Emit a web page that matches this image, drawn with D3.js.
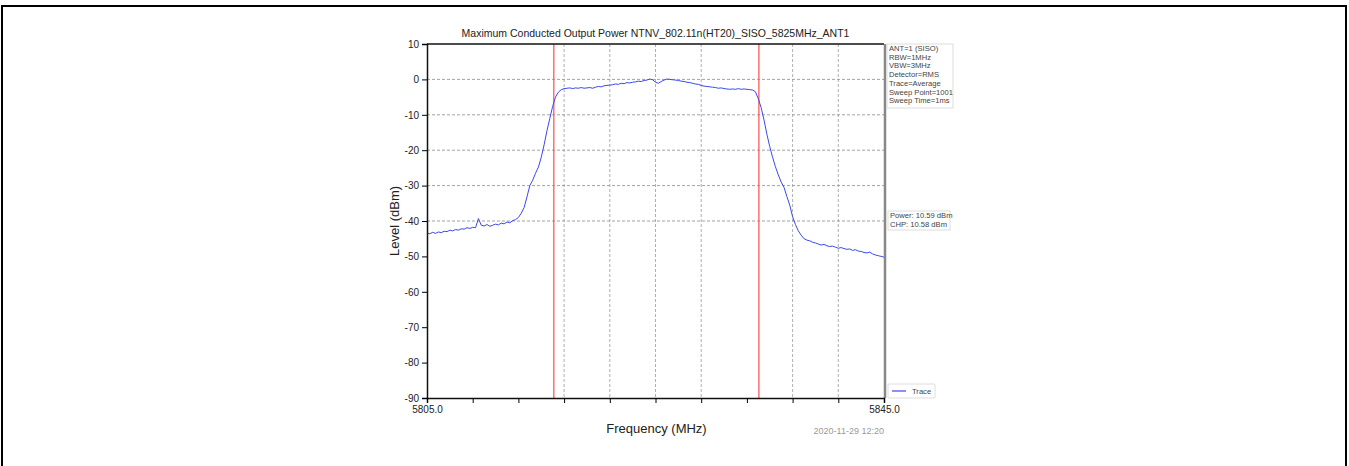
<!DOCTYPE html>
<html><head><meta charset="utf-8">
<script src="https://cdn.jsdelivr.net/npm/d3@7"></script>
<style>body{margin:0;background:#fff;font-family:"Liberation Sans",Arial,sans-serif}</style>
</head><body><svg id="c" width="1349" height="466"></svg>
<script>
const startFreq = 5805.0, stepFreq = 0.25;
const levels = [
-43.4,-43.6,-43.2,-43.5, -43.1,-43.3,-42.9,-43.0, -42.6,-42.8,-42.4,-42.6, -42.2,-42.3,-41.9,-42.1,
-41.8,-41.9,-39.3,-41.2, -41.4,-41.0,-41.5,-41.2, -40.9,-41.1,-40.6,-40.8, -40.3,-40.5,-39.9,-39.6,
-39.0,-37.8,-36.2,-33.2, -30.0,-28.5,-26.5,-24.8, -22.0,-18.5,-14.5,-11.0, -7.6,-5.0,-3.6,-2.9,
-2.6,-2.5,-2.4,-2.6, -2.4,-2.5,-2.3,-2.5, -2.4,-2.3,-2.5,-2.2, -2.0,-2.1,-1.8,-1.7,
-1.6,-1.5,-1.3,-1.4, -1.1,-1.2,-0.9,-1.0, -0.8,-0.7,-0.5,-0.6, -0.3,-0.2,0.1,-0.1,
-0.8,-1.1,-0.6,-0.2, 0.1,0.0,-0.1,-0.2, -0.3,-0.5,-0.6,-0.8, -0.9,-1.1,-1.3,-1.4,
-1.7,-1.9,-2.0,-2.1, -2.2,-2.3,-2.5,-2.4, -2.6,-2.7,-2.8,-2.7, -2.8,-2.6,-2.8,-2.7,
-2.8,-2.9,-3.0,-3.5, -5.5,-8.0,-11.5,-15.5, -19.0,-22.0,-24.7,-27.0, -29.0,-30.5,-33.1,-35.5,
-38.8,-41.0,-42.8,-44.0, -45.0,-45.4,-45.6,-46.0, -46.2,-46.5,-46.8,-46.6, -47.0,-47.2,-47.1,-47.4,
-47.7,-47.5,-47.8,-48.0, -47.9,-48.3,-48.1,-48.5, -48.6,-48.9,-49.0,-48.8, -49.3,-49.6,-49.8,-50.0,
-50.2];
const xTicks = [5805,5809,5813,5817,5821,5825,5829,5833,5837,5841,5845];
const xLabelTicks = [5805,5845];
const yTicks = [10,0,-10,-20,-30,-40,-50,-60,-70,-80,-90];
const hGrid = [0,-10,-20,-30,-40];
const vGrid = [5817,5821,5825,5829,5837,5841];
const markers = [5816.1,5834.05];
const infoLines = ["ANT=1 (SISO)","RBW=1MHz","VBW=3MHz","Detector=RMS","Trace=Average","Sweep Point=1001","Sweep Time=1ms"];
const powerLines = ["Power: 10.59 dBm","CHP: 10.58 dBm"];
const titleText = "Maximum Conducted Output Power NTNV_802.11n(HT20)_SISO_5825MHz_ANT1";

const svg = d3.select("#c");
svg.append("rect").attr("x",2).attr("y",6).attr("width",1344).attr("height",470)
  .attr("fill","none").attr("stroke","#000").attr("stroke-width",2);

const L=427,R=884,T=44,B=398;
const x = d3.scaleLinear().domain([5805,5845]).range([L,R]);
const y = d3.scaleLinear().domain([-90,10]).range([B,T]);

const g = svg.append("g");
g.selectAll(".hg").data(hGrid).join("line").attr("x1",L).attr("x2",R)
  .attr("y1",d=>y(d)).attr("y2",d=>y(d)).attr("stroke","#8a8a8a").attr("stroke-dasharray","3,2").attr("stroke-width",0.8);
g.selectAll(".vg").data(vGrid).join("line").attr("y1",T).attr("y2",B)
  .attr("x1",d=>x(d)).attr("x2",d=>x(d)).attr("stroke","#9a9a9a").attr("stroke-dasharray","3,2").attr("stroke-width",0.8);
g.selectAll(".mk").data(markers).join("line").attr("y1",T).attr("y2",B)
  .attr("x1",d=>x(d)).attr("x2",d=>x(d)).attr("stroke","#ff5a5a").attr("stroke-width",1.3);

const line = d3.line().x((d,i)=>x(startFreq+i*stepFreq)).y(d=>y(d));
g.append("path").datum(levels).attr("d",line).attr("fill","none")
  .attr("stroke","#3a48f0").attr("stroke-width",1);

svg.append("line").attr("x1",L).attr("x2",R).attr("y1",T).attr("y2",T).attr("stroke","#111").attr("stroke-width",1.5);
svg.append("line").attr("x1",R+1).attr("x2",R+1).attr("y1",T).attr("y2",B).attr("stroke","#888").attr("stroke-width",2.5);

const yAxis = d3.axisLeft(y).tickValues(yTicks).tickSize(5).tickFormat(d=>String(d));
const ya = svg.append("g").attr("transform",`translate(${L},0)`).call(yAxis);
ya.select(".domain").attr("stroke","#111").attr("stroke-width",1.5);
ya.selectAll("text").attr("font-size",10).attr("fill","#222").attr("font-family","Liberation Sans, Arial");

const xAxis = d3.axisBottom(x).tickValues(xTicks).tickSize(5)
  .tickFormat(d=>xLabelTicks.includes(d)?d.toFixed(1):"");
const xa = svg.append("g").attr("transform",`translate(0,${B})`).call(xAxis);
xa.select(".domain").attr("stroke","#111").attr("stroke-width",1.5);
xa.selectAll("text").attr("font-size",10).attr("fill","#222").attr("font-family","Liberation Sans, Arial");

svg.append("text").attr("x",(L+R)/2).attr("y",37).attr("text-anchor","middle")
  .attr("font-size",10.5).attr("fill","#222").text(titleText);
svg.append("text").attr("transform",`translate(399,${(T+B)/2}) rotate(-90)`).attr("text-anchor","middle")
  .attr("font-size",13).attr("fill","#222").text("Level (dBm)");
svg.append("text").attr("x",(L+R)/2+1).attr("y",433).attr("text-anchor","middle")
  .attr("font-size",13).attr("fill","#222").text("Frequency (MHz)");
svg.append("text").attr("x",R).attr("y",434).attr("text-anchor","end")
  .attr("font-size",9).attr("fill","#999").text("2020-11-29 12:20");

const ib = svg.append("g");
ib.append("rect").attr("x",887).attr("y",44).attr("width",66).attr("height",64)
  .attr("fill","#fff").attr("stroke","#ddd");
ib.selectAll("text").data(infoLines).join("text").attr("x",889).attr("y",(d,i)=>51+i*8.7)
  .attr("font-size",7.6).attr("fill","#444").text(d=>d);

const pb = svg.append("g");
pb.append("rect").attr("x",888).attr("y",211).attr("width",62).attr("height",19)
  .attr("fill","#fff").attr("stroke","#ddd");
pb.selectAll("text").data(powerLines).join("text").attr("x",890).attr("y",(d,i)=>218+i*8.5)
  .attr("font-size",7.6).attr("fill","#444").text(d=>d);

const lb = svg.append("g");
lb.append("rect").attr("x",888).attr("y",384).attr("width",47).attr("height",14).attr("rx",1)
  .attr("fill","#fff").attr("stroke","#ddd");
lb.append("line").attr("x1",892).attr("x2",906).attr("y1",391).attr("y2",391).attr("stroke","#3a48f0").attr("stroke-width",1.2);
lb.append("text").attr("x",912).attr("y",394).attr("font-size",7.6).attr("fill","#444").text("Trace");
</script></body></html>
